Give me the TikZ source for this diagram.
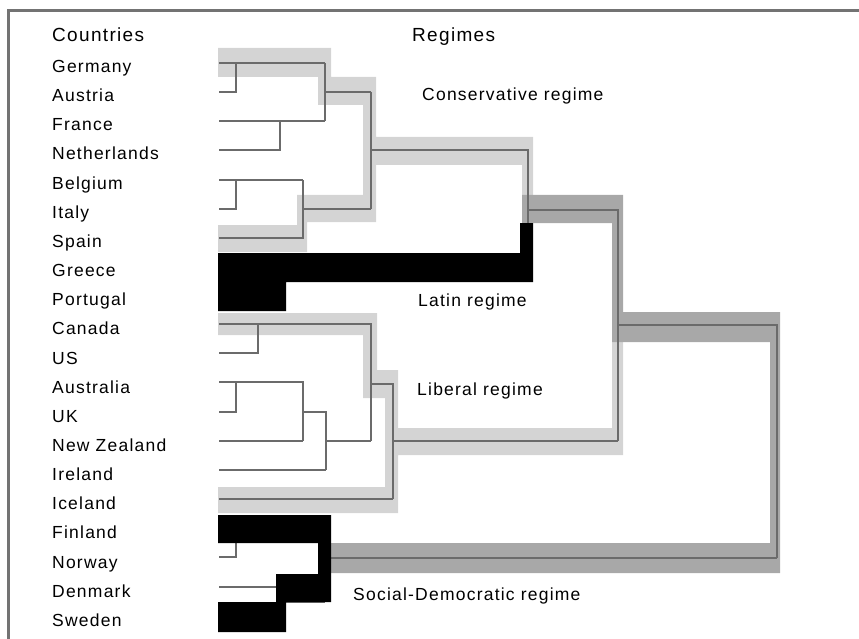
\documentclass[tikz,border=0pt]{standalone}
\usepackage{fontspec}
\setmainfont{Liberation Sans}[LetterSpace=7]
\usetikzlibrary{positioning}

\begin{document}
\begin{tikzpicture}[
    x=1pt, y=-1pt,
    font=\fontsize{17.5}{20}\selectfont,
    cty/.style={anchor=west, inner sep=0pt, text height=12.5pt, text depth=3.5pt},
    reg/.style={anchor=base west, inner sep=0pt},
    head/.style={reg, font=\fontsize{19}{22}\selectfont},
    lnk/.style={draw=black!58, line width=1.5pt},
    lite/.style={fill=black!17},
    mid/.style={fill=black!34},
    blk/.style={fill=black},
    frame/.style={draw=black!55, line width=3pt}
  ]
    \useasboundingbox (0,0) rectangle (859,639);

    % highlight bands
    \fill[lite] (218,48) rectangle (331,77) (318,77) rectangle (376,105)
      (363,77) rectangle (376,222) (297,195) rectangle (376,222)
      (297,195) rectangle (307,252) (218,225) rectangle (307,252)
      (363,137) rectangle (533,165) (522,137) rectangle (533,195);
    \fill[lite] (218,313) rectangle (377,335) (363,313) rectangle (377,398)
      (363,370) rectangle (398,398) (385,370) rectangle (398,513)
      (218,487) rectangle (398,513) (385,428) rectangle (623,455)
      (612,340) rectangle (623,455);
    \fill[mid] (522,195) rectangle (623,223) (612,195) rectangle (623,340)
      (612,312) rectangle (780,342) (770,312) rectangle (780,573)
      (331,543) rectangle (780,573);

    % tree
    \draw[lnk] (219,63) -- (325,63);
    \draw[lnk] (219,92) -| (236,63);
    \draw[lnk] (219,121) -- (325,121);
    \draw[lnk] (219,150) -| (280,121);
    \draw[lnk] (325,63) -- (325,121);
    \draw[lnk] (325,92) -- (371,92);
    \draw[lnk] (219,180) -- (303,180);
    \draw[lnk] (219,209) -| (236,180);
    \draw[lnk] (219,238) -| (303,180);
    \draw[lnk] (303,209) -- (371,209);
    \draw[lnk] (371,92) -- (371,209);
    \draw[lnk] (371,150) -| (528,267);
    \draw[lnk] (219,267) -- (528,267);
    \draw[lnk] (219,296) -| (270,267);
    \draw[lnk] (528,210) -| (618,441);
    \draw[lnk] (219,324) -| (371,441);
    \draw[lnk] (219,353) -| (258,324);
    \draw[lnk] (219,382) -| (303,441);
    \draw[lnk] (219,412) -| (236,382);
    \draw[lnk] (219,441) -- (303,441);
    \draw[lnk] (303,412) -| (326,470);
    \draw[lnk] (219,470) -- (326,470);
    \draw[lnk] (326,441) -- (371,441);
    \draw[lnk] (371,384) -| (393,499);
    \draw[lnk] (219,499) -- (393,499);
    \draw[lnk] (393,441) -- (618,441);
    \draw[lnk] (618,325) -| (777,558);
    \draw[lnk] (219,529) -| (325,602);
    \draw[lnk] (219,557) -| (236,529);
    \draw[lnk] (219,587) -| (281,616);
    \draw[lnk] (219,616) -- (281,616);
    \draw[lnk] (281,602) -- (325,602);
    \draw[lnk] (325,558) -- (777,558);

    % black regimes
    \fill[blk] (218,253) -- (520,253) -- (520,223) -- (533,223) -- (533,282)
      -- (286,282) -- (286,311) -- (218,311) -- cycle;
    \fill[blk] (218,515) -- (331,515) -- (331,602) -- (286,602) -- (286,632)
      -- (218,632) -- (218,602) -- (276,602) -- (276,574) -- (318,574)
      -- (318,543) -- (218,543) -- cycle;

    % labels
    \node[head] (hdcty) at (52,42) {Countries};
    \node[head] (hdreg) at (412,42) {Regimes};
    \node[cty] (germany) at (52,68) {Germany};
    \node[cty, below=29.15pt of germany.west, anchor=west] (austria) {Austria};
    \node[cty, below=29.15pt of austria.west, anchor=west] (france) {France};
    \node[cty, below=29.15pt of france.west, anchor=west] (nether) {Netherlands};
    \node[cty, below=29.15pt of nether.west, anchor=west] (belgium) {Belgium};
    \node[cty, below=29.15pt of belgium.west, anchor=west] (italy) {Italy};
    \node[cty, below=29.15pt of italy.west, anchor=west] (spain) {Spain};
    \node[cty, below=29.15pt of spain.west, anchor=west] (greece) {Greece};
    \node[cty, below=29.15pt of greece.west, anchor=west] (portugal) {Portugal};
    \node[cty, below=29.15pt of portugal.west, anchor=west] (canada) {Canada};
    \node[cty, below=29.15pt of canada.west, anchor=west] (us) {US};
    \node[cty, below=29.15pt of us.west, anchor=west] (austral) {Australia};
    \node[cty, below=29.15pt of austral.west, anchor=west] (uk) {UK};
    \node[cty, below=29.15pt of uk.west, anchor=west] (nz) {New Zealand};
    \node[cty, below=29.15pt of nz.west, anchor=west] (ireland) {Ireland};
    \node[cty, below=29.15pt of ireland.west, anchor=west] (iceland) {Iceland};
    \node[cty, below=29.15pt of iceland.west, anchor=west] (finland) {Finland};
    \node[cty, below=29.15pt of finland.west, anchor=west] (norway) {Norway};
    \node[cty, below=29.15pt of norway.west, anchor=west] (denmark) {Denmark};
    \node[cty, below=29.15pt of denmark.west, anchor=west] (sweden) {Sweden};

    \node[reg] (cons) at (422,101) {Conservative regime};
    \node[reg] (latin) at (418,306) {Latin regime};
    \node[reg] (lib) at (417,395) {Liberal regime};
    \node[reg] (socdem) at (353,600) {Social-Democratic regime};

    % frame
    \draw[frame] (8,639) -- (8,11) -- (859,11);
  \end{tikzpicture}
\end{document}
